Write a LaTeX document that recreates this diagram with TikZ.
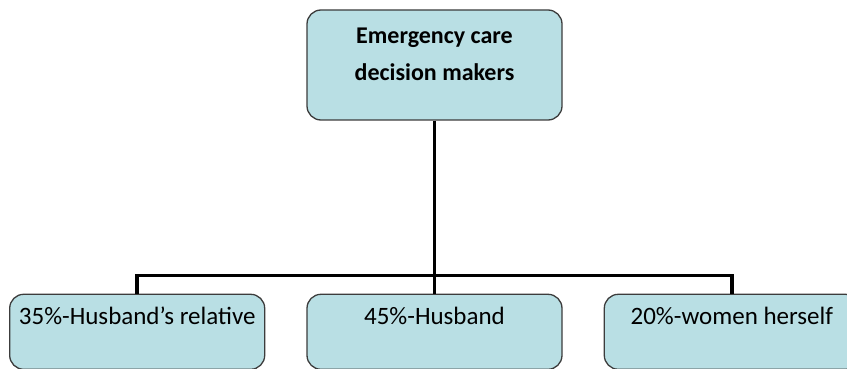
\documentclass[tikz,border=0pt]{standalone}
\usepackage{fontspec}
\setmainfont{Carlito}
\usetikzlibrary{positioning}

\definecolor{boxfill}{RGB}{185,223,228}
\definecolor{boxline}{RGB}{60,60,60}

\tikzset{
	decbox/.style={draw=boxline, line width=1.3pt, fill=boxfill, rounded corners=14pt,
		minimum width=255pt, inner sep=0pt, font=\fontsize{25}{37}\selectfont},
	topbox/.style={decbox, align=center, text height=71pt, text depth=39pt, font=\bfseries\fontsize{24}{37}\selectfont},
	leafbox/.style={decbox, text height=30pt, text depth=45pt},
	link/.style={line width=3.5pt}
}

\begin{document}
\begin{tikzpicture}[x=1pt, y=1pt]
	\useasboundingbox (0,0) rectangle (847,-369);
	
	\node[topbox] (top) at (434.5,-65) {Emergency care\\decision makers};
	\node[leafbox, below=173pt of top] (husband) {45\%-Husband};
	\node[leafbox, left=41pt of husband] (relative) {35\%-Husband’s relative};
	\node[leafbox, right=41pt of husband] (herself) {20\%-women herself};
	
	\path (top.south) -- (husband.north) coordinate[pos=0.896] (bus);
	
	\draw[link] (top) -- (husband);
	\draw[link] (relative.north) |- (bus) -| (herself.north);
\end{tikzpicture}
\end{document}
